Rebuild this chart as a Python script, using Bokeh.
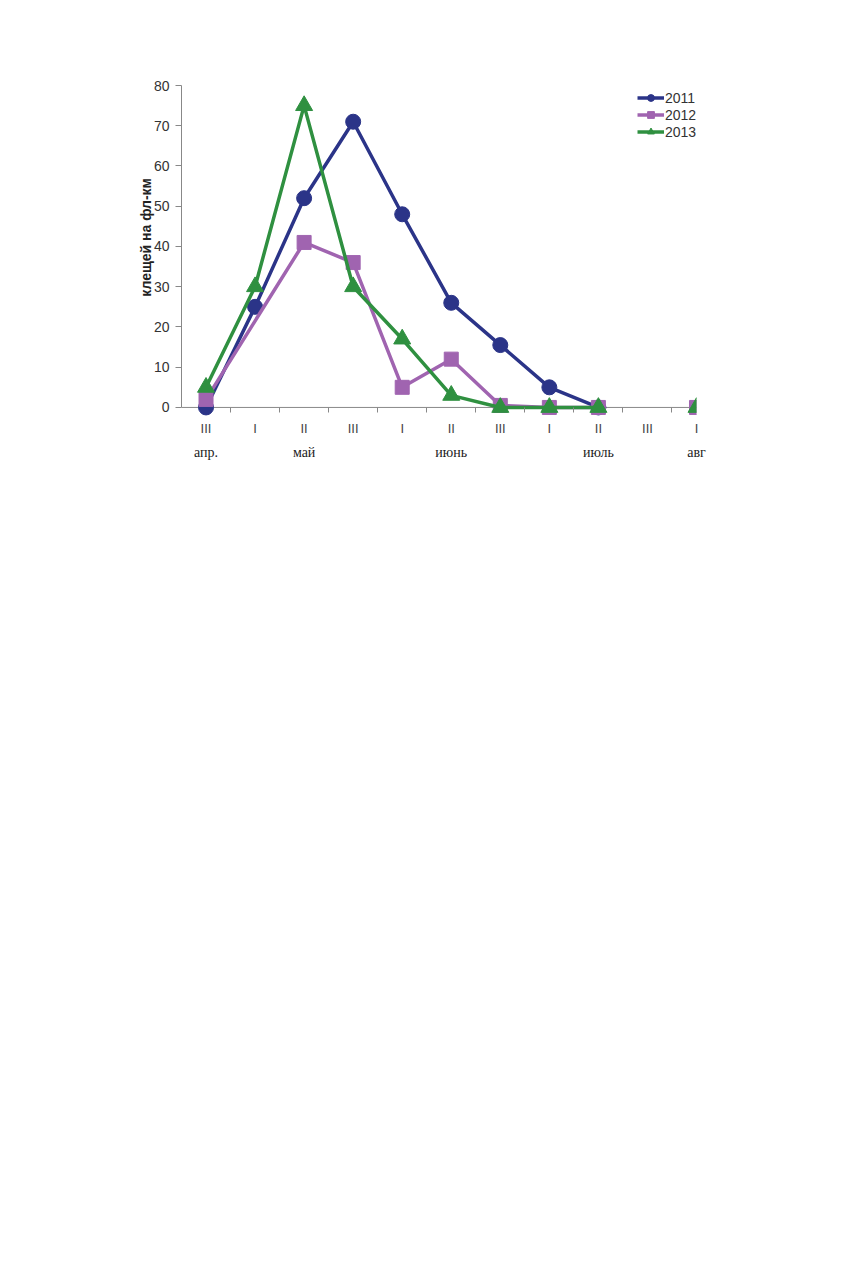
import math
from bokeh.plotting import figure
from bokeh.models import Range1d, FixedTicker, LinearAxis, Span, Legend, LegendItem
from bokeh.embed import file_html
from bokeh.resources import INLINE

# ---- data ----
decades = ["III", "I", "II", "III", "I", "II", "III", "I", "II", "III", "I"]
month_pos = [0, 2, 5, 8, 10]
month_names = ["апр.", "май", "июнь", "июль", "авг"]
y_ticks = [0, 10, 20, 30, 40, 50, 60, 70, 80]
years = ["2011", "2012", "2013"]
s2011 = [0, 25, 52, 71, 48, 26, 15.5, 5, 0, None, None]
s2012 = [2, None, 41, 36, 5, 12, 0.5, 0, 0, None, 0]
s2013 = [5, 30, 75, 30, 17, 3, 0, 0, 0, None, 0]
series = [s2011, s2012, s2013]

colors = ["#2b3488", "#a064b0", "#2f9040"]
markers = ["circle", "square", "triangle"]
msizes = [15, 14, 17]

FONT = "Liberation Sans"

p = figure(width=726, height=470, output_backend="svg", toolbar_location=None,
           x_range=Range1d(-0.5, 10), y_range=Range1d(-2.25, 80),
           min_border_left=181, min_border_right=30, min_border_top=85, min_border_bottom=54,
           x_axis_location=None, y_axis_location=None)
p.outline_line_color = None
p.grid.visible = False
p.background_fill_color = "white"
p.border_fill_color = "white"

# y axis
yax = LinearAxis(ticker=FixedTicker(ticks=y_ticks), bounds=(0, 80))
yax.axis_label = "\u00a0" * 7 + "клещей на фл-км"
yax.axis_label_text_font = FONT
yax.axis_label_text_font_style = "bold"
yax.axis_label_text_font_size = "14px"
yax.axis_label_text_color = "#222222"
yax.axis_label_standoff = -3
yax.major_label_text_font = FONT
yax.major_label_text_font_size = "14px"
yax.major_label_text_color = "#333333"
yax.axis_line_color = "#888888"
yax.major_tick_line_color = "#888888"
yax.major_tick_out = 6
yax.major_tick_in = 0
yax.minor_tick_line_color = None
yax.major_label_standoff = 6
p.add_layout(yax, "left")

# x axis line at zero
p.add_layout(Span(location=0, dimension="width", line_color="#888888", line_width=1, level="underlay"))

# decade axis
xax = LinearAxis(ticker=FixedTicker(ticks=list(range(len(decades))),
                                    minor_ticks=[i + 0.5 for i in range(len(decades) - 1)]))
xax.major_label_overrides = {i: d for i, d in enumerate(decades)}
xax.axis_line_color = None
xax.major_tick_line_color = None
xax.minor_tick_line_color = "#888888"
xax.minor_tick_in = 9
xax.minor_tick_out = -4
xax.major_label_text_font = FONT
xax.major_label_text_font_size = "13px"
xax.major_label_text_color = "#444444"
xax.major_label_standoff = -2
p.add_layout(xax, "below")

# month axis
max_ = LinearAxis(ticker=FixedTicker(ticks=month_pos))
max_.major_label_overrides = {m: n for m, n in zip(month_pos, month_names)}
max_.axis_line_color = None
max_.major_tick_line_color = None
max_.minor_tick_line_color = None
max_.major_label_text_font = "Liberation Serif"
max_.major_label_text_font_size = "14px"
max_.major_label_text_color = "#222222"
max_.major_label_standoff = 0
p.add_layout(max_, "below")

items = []
for name, vals, c, m, sz in zip(years, series, colors, markers, msizes):
    lx, ly = [], []
    for i, v in enumerate(vals):
        if v is not None:
            lx.append(i); ly.append(v)
        elif all(s[i] is None for s in series):
            lx.append(i); ly.append(float("nan"))
    px = [i for i, v in enumerate(vals) if v is not None]
    py = [v for v in vals if v is not None]
    r1 = p.line(lx, ly, line_color=c, line_width=3.5)
    r2 = p.scatter(px, py, marker=m, size=sz, fill_color=c, line_color=c)
    items.append(LegendItem(label=name, renderers=[r1, r2]))

leg = Legend(items=items, location=(456, 276))
leg.border_line_color = None
leg.background_fill_alpha = 0
leg.label_text_font = FONT
leg.label_text_font_size = "14px"
leg.label_text_color = "#333333"
leg.glyph_width = 27
leg.glyph_height = 17
leg.spacing = 0
leg.padding = 2
leg.margin = 0
leg.label_standoff = 1
leg.label_height = 17
p.add_layout(leg)

open("out.html", "w").write(file_html(p, INLINE))
